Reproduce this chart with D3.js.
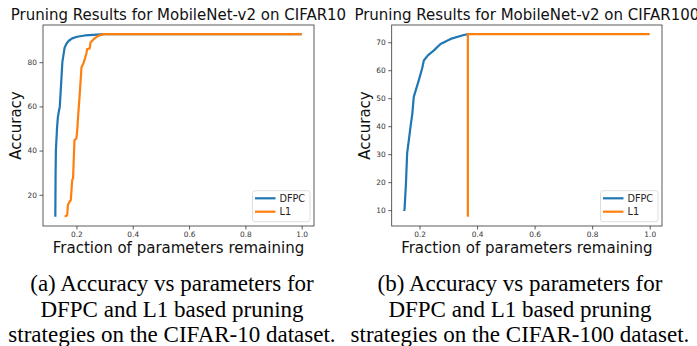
<!DOCTYPE html>
<html>
<head>
<meta charset="utf-8">
<script src="https://cdn.jsdelivr.net/npm/d3@7"></script>
<style>
  body { margin: 0; background: #fff; }
  svg { display: block; }
  .tick_label { font-family: "DejaVu Sans", sans-serif; font-size: 7.4px; fill: #333; }
  .title, .axis_label { font-family: "DejaVu Sans", sans-serif; font-size: 15px; fill: #111; }
  .legend_text { font-family: "DejaVu Sans", sans-serif; font-size: 9.7px; fill: #222; }
  .caption { font-family: "Liberation Serif", "Times New Roman", serif; font-size: 23px; fill: #000; }
</style>
</head>
<body>
<svg width="697" height="346"></svg>
<script>
// CIFAR-10 curves (fraction of params remaining, accuracy)
var c10_dfpc_x = [0.125, 0.126, 0.127, 0.131, 0.134, 0.138, 0.141, 0.150, 0.158, 0.165, 0.173, 0.185, 0.202, 0.230, 0.261, 0.297, 0.5, 0.75, 1.0];
var c10_dfpc_y = [10, 30, 40, 50, 55, 58, 60, 80, 86.6, 88.5, 89.7, 90.8, 91.5, 92.1, 92.4, 92.7, 92.7, 92.7, 92.7];
var c10_l1_x = [0.158, 0.167, 0.170, 0.176, 0.180, 0.185, 0.188, 0.193, 0.200, 0.203, 0.205, 0.211, 0.218, 0.226, 0.235, 0.238, 0.247, 0.250, 0.261, 0.277, 0.297, 0.5, 0.75, 1.0];
var c10_l1_y = [10.2, 10.6, 15.5, 17, 17.5, 26.7, 27.5, 44.7, 45.6, 49.5, 53.7, 64.2, 77.7, 79.9, 83.7, 85.9, 86.2, 88.9, 90.4, 91.9, 92.7, 92.7, 92.7, 92.7];

// CIFAR-100 curves
var c100_dfpc_x = [0.146, 0.148, 0.153, 0.157, 0.163, 0.169, 0.175, 0.180, 0.194, 0.204, 0.209, 0.215, 0.229, 0.250, 0.273, 0.308, 0.354, 0.370];
var c100_dfpc_y = [9.7, 10.3, 20, 30.4, 35.1, 40, 44.5, 50.5, 55.2, 58.8, 60.6, 63.5, 65.3, 67.1, 69.4, 71.2, 72.6, 72.9];
var c100_l1_x = [0.368, 0.368, 0.5, 0.75, 1.0];
var c100_l1_y = [7.6, 72.9, 72.9, 72.9, 72.9];

var x_ticks = [0.2, 0.4, 0.6, 0.8, 1.0];
var c10_y_ticks = [20, 40, 60, 80];
var c100_y_ticks = [10, 20, 30, 40, 50, 60, 70];

var series_names = ["DFPC", "L1"];
var series_colors = ["#1f77b4", "#ff7f0e"];

var titles = ["Pruning Results for MobileNet-v2 on CIFAR10", "Pruning Results for MobileNet-v2 on CIFAR100"];
var captions = [
  ["(a) Accuracy vs parameters for", "DFPC and L1 based pruning", "strategies on the CIFAR-10 dataset."],
  ["(b) Accuracy vs parameters for", "DFPC and L1 based pruning", "strategies on the CIFAR-100 dataset."]
];

var svg = d3.select("svg");

function zipSeries(xs, ys) {
  return xs.map(function(x, i) { return [x, ys[i]]; });
}

function paddedDomain(vals) {
  // matplotlib style 5% margins
  var ext = d3.extent(vals);
  var pad = (ext[1] - ext[0]) * 0.05;
  return [ext[0] - pad, ext[1] + pad];
}

function drawPanel(cfg) {
  var g = svg.append("g");
  var left = cfg.left, right = cfg.right, top = 25, bottom = 226;

  var all = cfg.series[0].concat(cfg.series[1]);
  var x = d3.scaleLinear()
    .domain(paddedDomain(all.map(function(d) { return d[0]; })))
    .range([left, right]);
  var y = d3.scaleLinear()
    .domain(paddedDomain(all.map(function(d) { return d[1]; })))
    .range([bottom, top]);

  var line = d3.line()
    .x(function(d) { return x(d[0]); })
    .y(function(d) { return y(d[1]); });

  // L1 drawn last so it sits on top, like matplotlib order
  cfg.series.forEach(function(s, i) {
    g.append("path")
      .datum(s)
      .attr("d", line)
      .attr("fill", "none")
      .attr("stroke", series_colors[i])
      .attr("stroke-width", 2.2)
      .attr("stroke-linejoin", "round");
  });

  // axes
  var xAxis = d3.axisBottom(x).tickValues(x_ticks).tickSize(3.5).tickPadding(2.5)
    .tickFormat(d3.format(".1f"));
  var yAxis = d3.axisLeft(y).tickValues(cfg.yTicks).tickSize(3.5).tickPadding(2.5);

  var gx = g.append("g").attr("transform", "translate(0," + bottom + ")").call(xAxis);
  var gy = g.append("g").attr("transform", "translate(" + left + ",0)").call(yAxis);
  [gx, gy].forEach(function(a) {
    a.select(".domain").remove();
    a.selectAll(".tick line").attr("stroke", "#333").attr("stroke-width", 0.8);
    a.selectAll(".tick text").attr("class", "tick_label").attr("font-size", null).attr("font-family", null);
  });

  g.append("rect")
    .attr("x", left).attr("y", top)
    .attr("width", right - left).attr("height", bottom - top)
    .attr("fill", "none")
    .attr("stroke", "#333")
    .attr("stroke-width", 0.8);

  // title + labels
  g.append("text")
    .attr("class", "title")
    .attr("x", (left + right) / 2).attr("y", 20)
    .attr("text-anchor", "middle")
    .text(cfg.title);

  g.append("text")
    .attr("class", "axis_label")
    .attr("x", (left + right) / 2).attr("y", 253)
    .attr("text-anchor", "middle")
    .text("Fraction of parameters remaining");

  g.append("text")
    .attr("class", "axis_label")
    .attr("transform", "translate(" + (left - 22) + "," + ((top + bottom) / 2) + ") rotate(-90)")
    .attr("text-anchor", "middle")
    .text("Accuracy");

  // legend
  var lw = 57.5, lh = 31;
  var lx = right - 4 - lw, ly = bottom - 4.3 - lh;
  var legend = g.append("g").attr("transform", "translate(" + lx + "," + ly + ")");
  legend.append("rect")
    .attr("width", lw).attr("height", lh)
    .attr("rx", 2.5)
    .attr("fill", "#fff").attr("fill-opacity", 0.8)
    .attr("stroke", "#d5d5d5").attr("stroke-width", 0.8);
  series_names.forEach(function(name, i) {
    var yy = 7.6 + i * 13.4;
    legend.append("line")
      .attr("x1", 2.5).attr("x2", 23)
      .attr("y1", yy).attr("y2", yy)
      .attr("stroke", series_colors[i]).attr("stroke-width", 2.2);
    legend.append("text")
      .attr("class", "legend_text")
      .attr("x", 27).attr("y", yy + 3.5)
      .text(name);
  });

  // caption
  cfg.caption.forEach(function(t, i) {
    svg.append("text")
      .attr("class", "caption")
      .attr("x", cfg.captionX).attr("y", 291 + i * 25.6)
      .attr("text-anchor", "middle")
      .text(t);
  });
}

drawPanel({
  left: 43, right: 314,
  series: [zipSeries(c10_dfpc_x, c10_dfpc_y), zipSeries(c10_l1_x, c10_l1_y)],
  yTicks: c10_y_ticks,
  title: titles[0],
  caption: captions[0],
  captionX: 172
});

drawPanel({
  left: 391.7, right: 662,
  series: [zipSeries(c100_dfpc_x, c100_dfpc_y), zipSeries(c100_l1_x, c100_l1_y)],
  yTicks: c100_y_ticks,
  title: titles[1],
  caption: captions[1],
  captionX: 520
});
</script>
</body>
</html>
